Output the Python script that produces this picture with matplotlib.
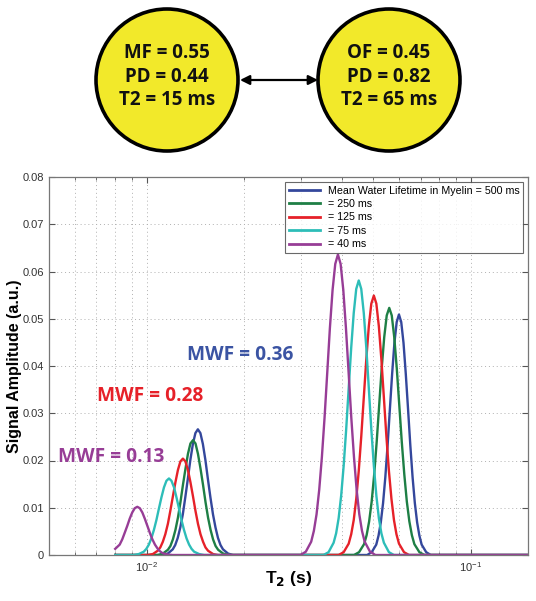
import numpy as np
import matplotlib
matplotlib.use("Agg")
import matplotlib.pyplot as plt
from matplotlib.patches import Circle, FancyArrowPatch

# T2 distributions (T2 in ms, amplitude in a.u.)
# one list per series: short (myelin) peak, then long peak, baseline out to 200 ms
labels = ["Mean Water Lifetime in Myelin = 500 ms", "= 250 ms", "= 125 ms", "= 75 ms", "= 40 ms"]
colors = ["#34479c", "#1e7f45", "#e62129", "#2dbdb8", "#973d96"]

t2_blue = [8.0,
           11.21, 11.62, 12.04, 12.25, 12.47, 12.70, 12.93, 13.16, 13.40, 13.64, 13.89, 14.14, 14.39,
           14.65, 14.91, 15.18, 15.45, 15.73, 16.02, 16.31, 16.60, 16.90, 17.20, 17.83, 18.47,
           47.88, 49.45, 51.07, 51.90, 52.74, 53.60, 54.47, 55.36, 56.26, 57.17, 58.10, 59.04, 60.00,
           60.98, 61.97, 62.97, 64.00, 65.03, 66.09, 67.16, 68.26, 69.37, 70.49, 72.80, 75.19,
           200.0]
amp_blue = [0,
            0, 0.0003, 0.0012, 0.0021, 0.0036, 0.0058, 0.0086, 0.0122, 0.0161, 0.0201, 0.0235, 0.0258, 0.0266,
            0.0258, 0.0235, 0.0201, 0.0161, 0.0122, 0.0086, 0.0058, 0.0036, 0.0021, 0.0012, 0.0003, 0,
            0, 0.0006, 0.0022, 0.0041, 0.0069, 0.0110, 0.0165, 0.0233, 0.0309, 0.0384, 0.0449, 0.0493, 0.0509,
            0.0493, 0.0449, 0.0384, 0.0309, 0.0233, 0.0165, 0.0110, 0.0069, 0.0041, 0.0022, 0.0006, 0,
            0]

t2_green = [8.0,
            10.83, 11.22, 11.63, 11.84, 12.05, 12.27, 12.49, 12.71, 12.94, 13.18, 13.41, 13.65, 13.90,
            14.15, 14.40, 14.66, 14.93, 15.20, 15.47, 15.75, 16.03, 16.32, 16.62, 17.22, 17.84,
            43.62, 45.20, 46.84, 47.69, 48.55, 49.43, 50.32, 51.22, 52.14, 53.08, 54.04, 55.01, 56.00,
            57.01, 58.03, 59.08, 60.14, 61.22, 62.33, 63.45, 64.60, 65.76, 66.94, 69.37, 71.89,
            200.0]
amp_green = [0,
             0, 0.0003, 0.0011, 0.0019, 0.0033, 0.0053, 0.0079, 0.0111, 0.0148, 0.0183, 0.0214, 0.0236, 0.0243,
             0.0236, 0.0214, 0.0183, 0.0148, 0.0111, 0.0079, 0.0053, 0.0033, 0.0019, 0.0011, 0.0003, 0,
             0, 0.0006, 0.0023, 0.0042, 0.0071, 0.0113, 0.0170, 0.0239, 0.0317, 0.0395, 0.0461, 0.0507, 0.0523,
             0.0507, 0.0461, 0.0395, 0.0317, 0.0239, 0.0170, 0.0113, 0.0071, 0.0042, 0.0023, 0.0006, 0,
             0]

t2_red = [8.0,
          10.08, 10.45, 10.82, 11.02, 11.22, 11.42, 11.63, 11.83, 12.05, 12.27, 12.49, 12.71, 12.94,
          13.17, 13.41, 13.65, 13.90, 14.15, 14.40, 14.66, 14.93, 15.19, 15.47, 16.03, 16.61,
          39.10, 40.52, 41.99, 42.75, 43.52, 44.31, 45.10, 45.91, 46.74, 47.58, 48.44, 49.31, 50.20,
          51.10, 52.02, 52.96, 53.91, 54.88, 55.87, 56.88, 57.91, 58.94, 60.01, 62.19, 64.45,
          200.0]
amp_red = [0,
           0, 0.0002, 0.0009, 0.0016, 0.0028, 0.0044, 0.0066, 0.0093, 0.0124, 0.0154, 0.0180, 0.0198, 0.0204,
           0.0198, 0.0180, 0.0154, 0.0124, 0.0093, 0.0066, 0.0044, 0.0028, 0.0016, 0.0009, 0.0002, 0,
           0, 0.0006, 0.0024, 0.0044, 0.0074, 0.0119, 0.0178, 0.0251, 0.0333, 0.0414, 0.0484, 0.0532, 0.0549,
           0.0532, 0.0484, 0.0414, 0.0333, 0.0251, 0.0178, 0.0119, 0.0074, 0.0044, 0.0024, 0.0006, 0,
           0]

t2_cyan = [8.0,
           9.13, 9.46, 9.80, 9.98, 10.16, 10.34, 10.53, 10.72, 10.91, 11.11, 11.31, 11.51, 11.72,
           11.93, 12.15, 12.36, 12.59, 12.81, 13.04, 13.28, 13.52, 13.76, 14.01, 14.52, 15.05,
           35.13, 36.40, 37.73, 38.41, 39.10, 39.81, 40.52, 41.25, 41.99, 42.75, 43.52, 44.30, 45.10,
           45.91, 46.74, 47.58, 48.44, 49.31, 50.20, 51.10, 52.02, 52.96, 53.91, 55.87, 57.90,
           200.0]
amp_cyan = [0,
            0, 0.0002, 0.0007, 0.0013, 0.0022, 0.0035, 0.0053, 0.0074, 0.0098, 0.0122, 0.0143, 0.0157, 0.0162,
            0.0157, 0.0143, 0.0122, 0.0098, 0.0074, 0.0053, 0.0035, 0.0022, 0.0013, 0.0007, 0.0002, 0,
            0, 0.0006, 0.0026, 0.0046, 0.0078, 0.0126, 0.0189, 0.0266, 0.0353, 0.0439, 0.0512, 0.0563, 0.0581,
            0.0563, 0.0512, 0.0439, 0.0353, 0.0266, 0.0189, 0.0126, 0.0078, 0.0046, 0.0026, 0.0006, 0,
            0]

t2_purple = [8.0, 8.26, 8.41, 8.56, 8.72, 8.87, 9.03, 9.19, 9.36,
             9.53, 9.70, 9.87, 10.05, 10.23, 10.42, 10.61, 10.80, 10.99, 11.19, 11.60, 12.02,
             29.82, 30.97, 32.17, 32.79, 33.42, 34.06, 34.71, 35.38, 36.06, 36.74, 37.45, 38.17, 38.90,
             39.65, 40.41, 41.18, 41.97, 42.77, 43.60, 44.43, 45.28, 46.15, 47.04, 48.86, 50.75,
             200.0]
amp_purple = [0.0013, 0.0022, 0.0033, 0.0047, 0.0062, 0.0077, 0.0090, 0.0099, 0.0102,
              0.0099, 0.0090, 0.0077, 0.0062, 0.0047, 0.0033, 0.0022, 0.0014, 0.0008, 0.0004, 0.0001, 0,
              0, 0.0007, 0.0028, 0.0051, 0.0086, 0.0138, 0.0207, 0.0291, 0.0386, 0.0480, 0.0561, 0.0616, 0.0636,
              0.0616, 0.0561, 0.0480, 0.0386, 0.0291, 0.0207, 0.0138, 0.0086, 0.0051, 0.0028, 0.0007, 0,
              0]

series_t2 = [t2_blue, t2_green, t2_red, t2_cyan, t2_purple]
series_amp = [amp_blue, amp_green, amp_red, amp_cyan, amp_purple]

mwf_text = ["MWF = 0.36", "MWF = 0.28", "MWF = 0.13"]
mwf_colors = ["#3b54a3", "#e62129", "#973d96"]
mwf_at = [(0.0194, 0.0423), (0.01026, 0.0337), (0.00776, 0.0208)]  # (T2 s, amplitude)

left_pool = ["MF = 0.55", "PD = 0.44", "T2 = 15 ms"]
right_pool = ["OF = 0.45", "PD = 0.82", "T2 = 65 ms"]

plt.rcParams['font.family'] = ['Liberation Sans', 'DejaVu Sans']

fig = plt.figure(figsize=(5.36, 6.01), dpi=100)

# two-pool exchange diagram, drawn in pixel coords
top = fig.add_axes([0, 0, 1, 1], zorder=0)
top.set_xlim(0, 536)
top.set_ylim(601, 0)
top.axis('off')
top.patch.set_alpha(0)
for cx, lines in [(167, left_pool), (389, right_pool)]:
    top.add_patch(Circle((cx, 80), 71, facecolor="#f2e92a", edgecolor="black", lw=2.6))
    for i, s in enumerate(lines):
        top.text(cx, 53 + i * 23.5, s, ha='center', va='center', fontsize=13.5,
                 fontweight='bold', family=['Open Sans', 'DejaVu Sans'], color="#111111")
top.add_patch(FancyArrowPatch((240, 80), (318, 80), arrowstyle='<|-|>', mutation_scale=14,
                              color='black', lw=1.6, shrinkA=0, shrinkB=0))

# T2 distribution plot
ax = fig.add_axes([49 / 536, 1 - 555 / 601, 479 / 536, 378 / 601], zorder=1)
for t2, amp, c, lab in zip(series_t2, series_amp, colors, labels):
    ax.plot(np.array(t2) / 1000.0, amp, color=c, lw=1.7, label=lab, solid_joinstyle='round')

ax.set_xscale('log')
ax.set_xlim(0.005, 0.15)
ax.set_ylim(0, 0.08)
ax.set_yticks(np.arange(0, 0.081, 0.01))
ax.set_yticklabels(["0"] + ["%.2f" % v for v in np.arange(0.01, 0.081, 0.01)])
ax.grid(True, which='both', axis='x', ls=(0, (1, 3)), color='#b0b0b0', lw=0.7)
ax.grid(True, which='major', axis='y', ls=(0, (1, 3)), color='#b0b0b0', lw=0.7)
ax.tick_params(which='both', direction='in', top=True, right=True, labelsize=8,
               colors='#555555', labelcolor='#333333')
ax.tick_params(which='major', length=4)
ax.tick_params(which='minor', length=2.5)
for sp in ax.spines.values():
    sp.set_color('#777777')
    sp.set_linewidth(0.9)

ax.set_ylabel("Signal Amplitude (a.u.)", fontsize=11.5, fontweight='bold', labelpad=0.5)
ax.set_xlabel("T$_\\mathbf{2}$ (s)", fontsize=12.5, fontweight='bold', labelpad=-3)

leg = ax.legend(loc='upper right', fontsize=7.7, frameon=True, fancybox=False,
                handlelength=2.9, handletextpad=0.7, borderpad=0.35, labelspacing=0.32,
                borderaxespad=0.45)
leg.get_frame().set_edgecolor('#444444')
leg.get_frame().set_linewidth(0.8)
for ln in leg.get_lines():
    ln.set_linewidth(2.0)

for s, c, (x, y) in zip(mwf_text, mwf_colors, mwf_at):
    ax.text(x, y, s, color=c, fontsize=13.8, fontweight='bold', ha='center', va='center',
            family=['Open Sans', 'DejaVu Sans'])

fig.savefig("out.png", dpi=100)
